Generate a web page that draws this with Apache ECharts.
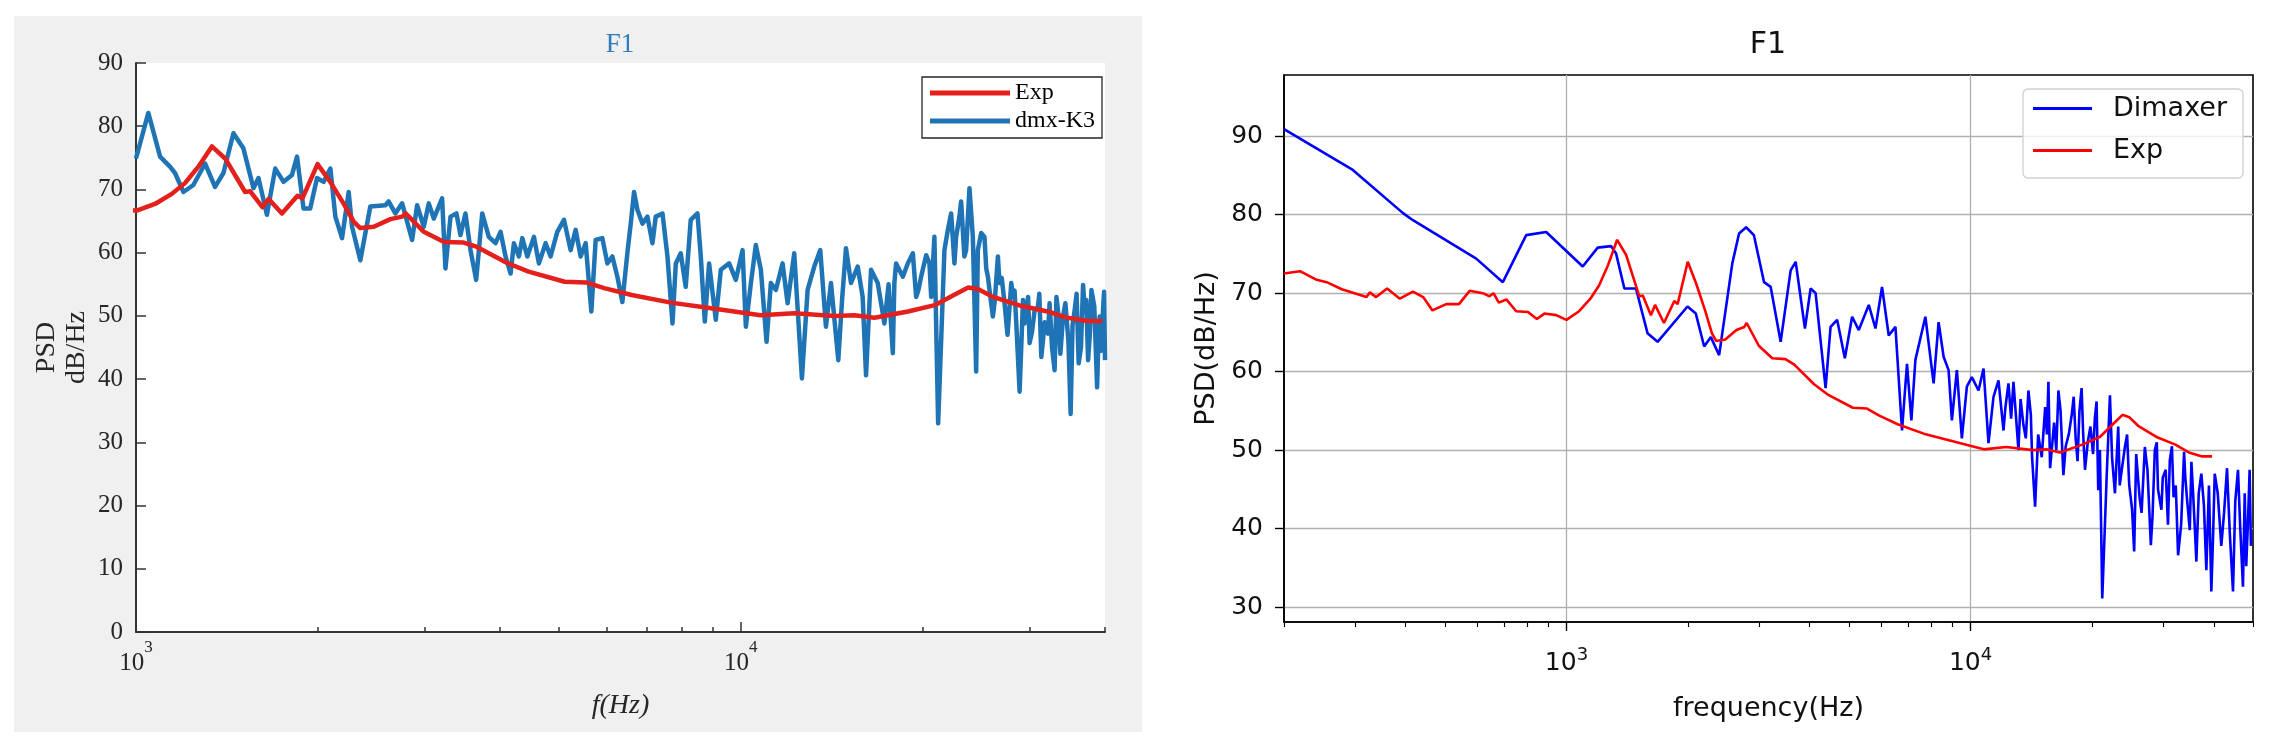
<!DOCTYPE html>
<html><head><meta charset="utf-8">
<script src="https://cdn.jsdelivr.net/npm/echarts@6/dist/echarts.min.js"></script>
<style>html,body{margin:0;padding:0;background:#fff}#c{width:2275px;height:751px}</style>
</head><body><div id="c"></div>
<script>
// ---------- data ----------
const expFreq = [200,219,241,255,278,320,326,338,360,387,417,442,466,504,542,576,621,645,660,680,710,751,803,845,882,943,1000,1075,1146,1205,1268,1335,1404,1515,1545,1618,1657,1743,1849,1884,1996,2095,2203,2290,2348,2472,2634,2755,2793,2992,3231,3482,3663,4100,4457,5114,5543,5945,6600,7660,8936,10780,12250,14280,15410,16630,18900,20920,22300,23770,24700,25980,29050,32130,34680,37420,39600];
const expPsd = [72.5,72.8,71.7,71.4,70.5,69.5,70.1,69.5,70.6,69.3,70.2,69.5,67.8,68.6,68.6,70.3,70.0,69.6,70.0,68.8,69.2,67.7,67.6,66.7,67.4,67.2,66.6,67.7,69.3,71.0,73.6,76.8,74.9,69.6,69.7,67.2,68.5,66.2,69.0,68.6,74.0,71.2,67.8,64.9,63.9,64.1,65.3,65.7,66.2,63.3,61.7,61.6,60.9,58.4,57.0,55.4,55.3,54.4,53.3,52.1,51.2,50.1,50.4,50.0,50.1,49.7,50.7,51.7,53.1,54.5,54.2,53.1,51.6,50.7,49.7,49.2,49.2];

const dmxFreq = [
1000,1048,1096,1138,1160,1198,1244,1301,1351,1395,
1449,1505,1564,1594,1646,1699,1754,1811,1846,1892,
1941,1992,2043,2096,2136,2191,2247,2276,2349,2440,
2584,2616,2684,2754,2861,2916,2991,3048,3107,3207,
3248,3311,3387,3439,3505,3573,3651,3736,3831,3930,
4006,4083,4162,4215,4296,4352,4436,4549,4636,4756,
4847,4972,5100,5231,5332,5434,5539,5660,5754,5902,
6016,6132,6250,6370,6493,6576,6659,6745,6876,7007,
7142,7233,7421,7563,7709,7807,7955,8107,8264,8478,
8586,8718,8862,9090,9266,9564,9811,10065,10193,10390,
10588,10792,11028,11211,11426,11722,11948,12254,12618,12894,
13224,13530,13826,14093,14491,14700,14922,15210,15604,15900,
16106,16415,16840,17272,17550,17834,17940,18059,18526,18880,
19248,19490,19650,19862,20250,20502,20640,20893,21194,21706,
21990,22267,22550,22696,22980,23130,23420,23576,23877,24186,
24494,24650,24968,25280,25450,25614,25770,26104,26300,26607,
26770,27000,27288,27600,27995,28180,28350,28535,28899,29274,
29440,29850,30019,30300,30598,30990,31150,31389,31800,32198,
32390,32700,33016,33250,33440,33750,34092,34400,34800,35095,
35350,35633,35900,36184,36500,36797,37030,37250,37506,37750,
37985,38400,38816,39000,39202,39450,39700,39855,40000];
const dmxPsd = [
74.9,82.1,75.2,73.6,72.6,69.6,70.7,74.1,70.4,72.6,
78.9,76.5,70.2,71.8,66.0,73.3,71.2,72.3,75.2,67.0,
67.0,71.8,71.2,73.3,65.7,62.3,69.6,64.1,58.8,67.3,
67.5,68.1,66.2,67.8,62.0,67.5,64.1,67.8,65.4,68.6,
57.5,65.7,66.2,62.8,66.2,60.4,55.7,66.2,62.5,61.5,
63.3,59.4,56.7,61.5,59.4,62.3,59.4,62.5,58.3,61.5,
59.4,63.3,65.2,60.4,63.6,59.4,61.5,50.7,62.0,62.3,
58.3,59.4,56.2,52.2,60.0,64.6,69.6,66.8,64.6,65.7,
61.5,65.7,66.2,59.4,48.8,58.3,59.9,54.6,65.2,66.2,
59.4,49.1,58.3,49.4,57.3,58.3,55.7,60.4,48.3,55.2,
61.2,57.3,45.9,55.2,54.1,58.3,52.0,59.9,40.1,54.1,
57.8,60.4,48.3,55.2,43.0,52.5,60.7,55.2,57.8,53.0,
40.6,57.3,55.2,48.8,55.0,44.1,55.2,58.3,56.2,58.3,
59.9,53.0,54.0,56.2,59.6,58.3,53.0,62.5,33.0,60.4,
63.6,66.2,58.3,62.5,65.7,68.1,59.4,60.4,70.2,62.5,
41.2,60.4,63.1,62.5,57.5,56.2,54.1,49.9,52.5,59.4,
55.2,56.0,52.0,47.0,55.2,53.0,54.0,48.8,38.0,52.5,
48.8,53.0,45.7,47.5,50.9,51.5,53.5,43.5,49.0,47.2,
52.0,45.0,41.4,53.0,50.9,44.0,49.9,52.0,46.0,34.5,
48.5,50.9,53.5,42.5,45.0,54.9,50.9,52.5,43.0,47.0,
54.1,51.5,38.7,46.0,49.9,44.5,50.9,53.8,43.0];

const dimFreq = [
200,296,394,417,598,696,795,891,1097,1195,
1289,1326,1391,1486,1587,1681,1993,2090,2192,2277,
2387,2573,2674,2784,2909,3083,3202,3389,3588,3692,
3892,4020,4136,4378,4504,4676,4886,5092,5290,5600,
5817,6039,6274,6518,6767,6962,7138,7303,7731,8102,
8336,8577,8824,8991,9250,9517,9792,10074,10466,10767,
11077,11397,11726,12065,12200,12412,12600,12770,13138,13300,
13517,13700,13906,14100,14200,14446,14700,15004,15300,15450,
15584,15735,16100,16300,16498,16700,16972,17200,17500,17800,
18000,18200,18400,18600,18829,19000,19197,19500,19800,20100,
20300,20507,20702,20900,21180,21704,22128,22400,22769,23198,
23400,23600,24099,24400,24700,25100,25405,25700,25990,26200,
26500,26999,27400,27937,28200,28576,28900,29100,29668,29900,
30400,30800,31124,31500,31800,32200,32630,33200,33762,34000,
34300,34875,35200,35500,35900,36209,36700,37250,37800,38327,
38900,39432,39800,40202,40900,41737,42400,43118,43800,44613,
45200,45900,46500,47220,47700,48111,48600,49050,49410];
const dimPsd = [
90.9,85.7,80.2,79.3,74.4,71.4,77.4,77.8,73.4,75.8,
76.0,75.1,70.6,70.6,64.9,63.8,68.3,67.4,63.2,64.4,
62.1,73.8,77.6,78.4,77.4,71.4,70.8,63.8,72.9,74.0,
65.5,70.6,70.0,57.9,65.7,66.6,61.7,67.0,65.3,68.5,
65.5,70.8,64.6,65.7,52.5,61.0,53.8,61.5,67.0,58.5,
66.3,61.9,60.2,53.8,60.2,51.5,58.1,59.3,57.6,60.4,
50.9,56.8,58.9,52.5,55.5,58.5,54.0,58.7,50.0,56.5,
53.2,51.5,57.6,54.5,49.1,42.8,52.0,49.1,55.5,52.0,
58.7,47.7,53.5,50.0,57.6,55.0,46.8,50.5,52.0,54.5,
56.8,51.5,48.6,55.0,57.9,52.0,47.5,51.0,53.0,49.5,
54.0,56.2,44.9,50.0,31.1,46.2,57.0,49.0,44.5,53.0,
45.5,47.0,50.4,52.0,45.5,42.5,37.1,49.5,46.2,44.0,
42.0,50.4,47.5,37.9,41.5,50.0,51.0,45.0,42.4,46.5,
47.5,40.5,48.7,50.5,44.0,45.5,36.6,40.5,49.8,46.5,
44.0,39.8,48.5,45.0,40.0,35.8,44.5,47.0,43.0,34.7,
45.5,32.0,38.5,47.0,44.5,37.8,42.0,47.7,39.5,32.0,
43.5,47.5,40.0,32.6,44.5,35.2,41.0,47.5,37.8];

const leftYTicks = [0, 90, 10];            // min, max, step
const rightYTicks = [30, 40, 50, 60, 70, 80, 90];
const leftMajorX = [1000, 10000];
const leftMinorX = [2000, 3000, 4000, 5000, 6000, 7000, 8000, 9000, 20000, 30000, 40000];
const rightMajorX = [1000, 10000];
const rightMinorX = [200, 300, 400, 500, 600, 700, 800, 900, 2000, 3000, 4000, 5000, 6000, 7000, 8000, 9000, 20000, 30000, 40000, 50000];

// ---------- styling ----------
const SERIF = "'Liberation Serif', 'Times New Roman', serif";
const SANS = "'DejaVu Sans', sans-serif";
const mRed = '#e3201b', mBlue = '#1f74b6';
const pRed = '#ff0000', pBlue = '#0000ff';
const mAx = '#333333';

const pairs = (xs, ys) => xs.map((x, i) => [x, ys[i]]);
const pow10 = v => '{b|10}{s|' + Math.round(Math.log10(v)) + '}';

const chart = echarts.init(document.getElementById('c'), null, {renderer: 'canvas'});
chart.setOption({
  animation: false,
  backgroundColor: '#ffffff',
  graphic: [
    {type: 'rect', z: -10, silent: true, shape: {x: 14, y: 16, width: 1128, height: 716}, style: {fill: '#f0f0f0'}},
    {type: 'text', x: 620, y: 45, style: {text: 'F1', font: '27px ' + SERIF, fill: '#2f7bbd', textAlign: 'center', textVerticalAlign: 'middle'}},
    {type: 'text', x: 1768, y: 45, style: {text: 'F1', font: '30px ' + SANS, fill: '#111', textAlign: 'center', textVerticalAlign: 'middle'}}
  ],
  grid: [
    {left: 136, top: 63, width: 969, height: 569, show: true, backgroundColor: '#ffffff', borderWidth: 0, outerBoundsMode: 'none'},
    {left: 1284, top: 75, width: 969, height: 547, show: true, backgroundColor: '#ffffff', borderColor: '#000', borderWidth: 1.6, outerBoundsMode: 'none'}
  ],
  xAxis: [
    {type: 'log', logBase: 10, gridIndex: 0, min: 1000, max: 40000, position: 'bottom',
     name: 'f(Hz)', nameLocation: 'middle', nameGap: 60,
     nameTextStyle: {fontFamily: SERIF, fontSize: 28, fontStyle: 'italic', color: '#262626'},
     axisLine: {lineStyle: {color: mAx, width: 2}},
     axisTick: {inside: true, length: 10, lineStyle: {color: mAx, width: 1.5}, customValues: leftMajorX},
     axisLabel: {customValues: leftMajorX, margin: 7, formatter: pow10, color: '#262626',
       rich: {b: {fontFamily: SERIF, fontSize: 25, color: '#262626', padding: [12, 0, 0, 0], verticalAlign: 'bottom'},
              s: {fontFamily: SERIF, fontSize: 17, color: '#262626', verticalAlign: 'top'}}},
     splitLine: {show: false}, minorTick: {show: false}},
    {type: 'log', logBase: 10, gridIndex: 0, min: 1000, max: 40000, position: 'bottom',
     axisLine: {show: false}, axisLabel: {show: false}, splitLine: {show: false},
     axisTick: {inside: true, length: 5, lineStyle: {color: mAx, width: 1.5}, customValues: leftMinorX}},
    {type: 'log', logBase: 10, gridIndex: 1, min: 200, max: 50000, position: 'bottom',
     name: 'frequency(Hz)', nameLocation: 'middle', nameGap: 73,
     nameTextStyle: {fontFamily: SANS, fontSize: 27, color: '#111'},
     axisLine: {lineStyle: {color: '#000', width: 1.6}},
     axisTick: {length: 9, lineStyle: {color: '#000', width: 1.4}, customValues: rightMajorX},
     axisLabel: {customValues: rightMajorX, margin: 24, formatter: pow10, color: '#111',
       rich: {b: {fontFamily: SANS, fontSize: 25, color: '#111', padding: [5, 0, 0, 0], verticalAlign: 'bottom'},
              s: {fontFamily: SANS, fontSize: 18, color: '#111', verticalAlign: 'top'}}},
     splitLine: {show: true, lineStyle: {color: '#b0b0b0', width: 1.3}}},
    {type: 'log', logBase: 10, gridIndex: 1, min: 200, max: 50000, position: 'bottom',
     axisLine: {show: false}, axisLabel: {show: false}, splitLine: {show: false},
     axisTick: {length: 5, lineStyle: {color: '#000', width: 1.1}, customValues: rightMinorX}}
  ],
  yAxis: [
    {type: 'value', gridIndex: 0, min: leftYTicks[0], max: leftYTicks[1], interval: leftYTicks[2],
     name: 'PSD\ndB/Hz', nameLocation: 'middle', nameGap: 44, nameRotate: 90,
     nameTextStyle: {fontFamily: SERIF, fontSize: 28, color: '#262626', lineHeight: 30},
     axisLine: {show: true, lineStyle: {color: mAx, width: 2}},
     axisTick: {show: true, inside: true, length: 10, lineStyle: {color: mAx, width: 1.5}},
     axisLabel: {margin: 13, fontFamily: SERIF, fontSize: 25, color: '#262626'},
     splitLine: {show: false}},
    {type: 'value', gridIndex: 1, min: 28.1, max: 97.8,
     name: 'PSD(dB/Hz)', nameLocation: 'middle', nameGap: 64,
     nameTextStyle: {fontFamily: SANS, fontSize: 27, color: '#111'},
     axisLine: {show: true, lineStyle: {color: '#000', width: 1.6}},
     axisTick: {show: true, length: 9, lineStyle: {color: '#000', width: 1.4}, customValues: rightYTicks},
     axisLabel: {customValues: rightYTicks, margin: 21, fontFamily: SANS, fontSize: 25, color: '#111'},
     splitLine: {show: true, lineStyle: {color: '#b0b0b0', width: 1.3}}}
  ],
  legend: [
    {orient: 'vertical', left: 922, top: 77, padding: [4, 7, 5, 8], itemGap: 4, itemWidth: 80, itemHeight: 5, icon: 'rect',
     backgroundColor: '#fff', borderColor: '#262626', borderWidth: 1.3,
     textStyle: {fontFamily: SERIF, fontSize: 24, color: '#000', lineHeight: 24},
     data: [{name: 'Exp', itemStyle: {color: mRed}}, {name: 'dmx-K3', itemStyle: {color: mBlue}}]},
    {orient: 'vertical', left: 2023, top: 89, padding: [6, 16, 14, 10], itemGap: 15, itemWidth: 59, itemHeight: 3, icon: 'rect',
     backgroundColor: 'rgba(255,255,255,0.8)', borderColor: '#d0d0d0', borderWidth: 1.3, borderRadius: 5,
     formatter: n => '{t|' + n + '}',
     textStyle: {fontFamily: SANS, fontSize: 27, color: '#111', lineHeight: 27,
       rich: {t: {fontFamily: SANS, fontSize: 27, color: '#111', lineHeight: 27, padding: [0, 0, 0, 16]}}},
     data: [{name: 'Dimaxer', itemStyle: {color: pBlue}}, {name: 'Exp', itemStyle: {color: pRed}}]}
  ],
  series: [
    {name: 'dmx-K3', type: 'line', xAxisIndex: 0, yAxisIndex: 0, data: pairs(dmxFreq, dmxPsd), showSymbol: false, symbol: 'none',
     lineStyle: {color: mBlue, width: 4.5, join: 'round'}, itemStyle: {color: mBlue}, clip: true},
    {name: 'Exp', type: 'line', xAxisIndex: 0, yAxisIndex: 0, data: pairs(expFreq, expPsd), showSymbol: false, symbol: 'none',
     lineStyle: {color: mRed, width: 4.5, join: 'round'}, itemStyle: {color: mRed}, clip: true},
    {name: 'Dimaxer', type: 'line', xAxisIndex: 2, yAxisIndex: 1, data: pairs(dimFreq, dimPsd), showSymbol: false, symbol: 'none',
     lineStyle: {color: pBlue, width: 2.6}, itemStyle: {color: pBlue}, clip: true},
    {name: 'Exp', type: 'line', xAxisIndex: 2, yAxisIndex: 1, data: pairs(expFreq, expPsd), showSymbol: false, symbol: 'none',
     lineStyle: {color: pRed, width: 2.6}, itemStyle: {color: pRed}, clip: true}
  ]
});
</script></body></html>
